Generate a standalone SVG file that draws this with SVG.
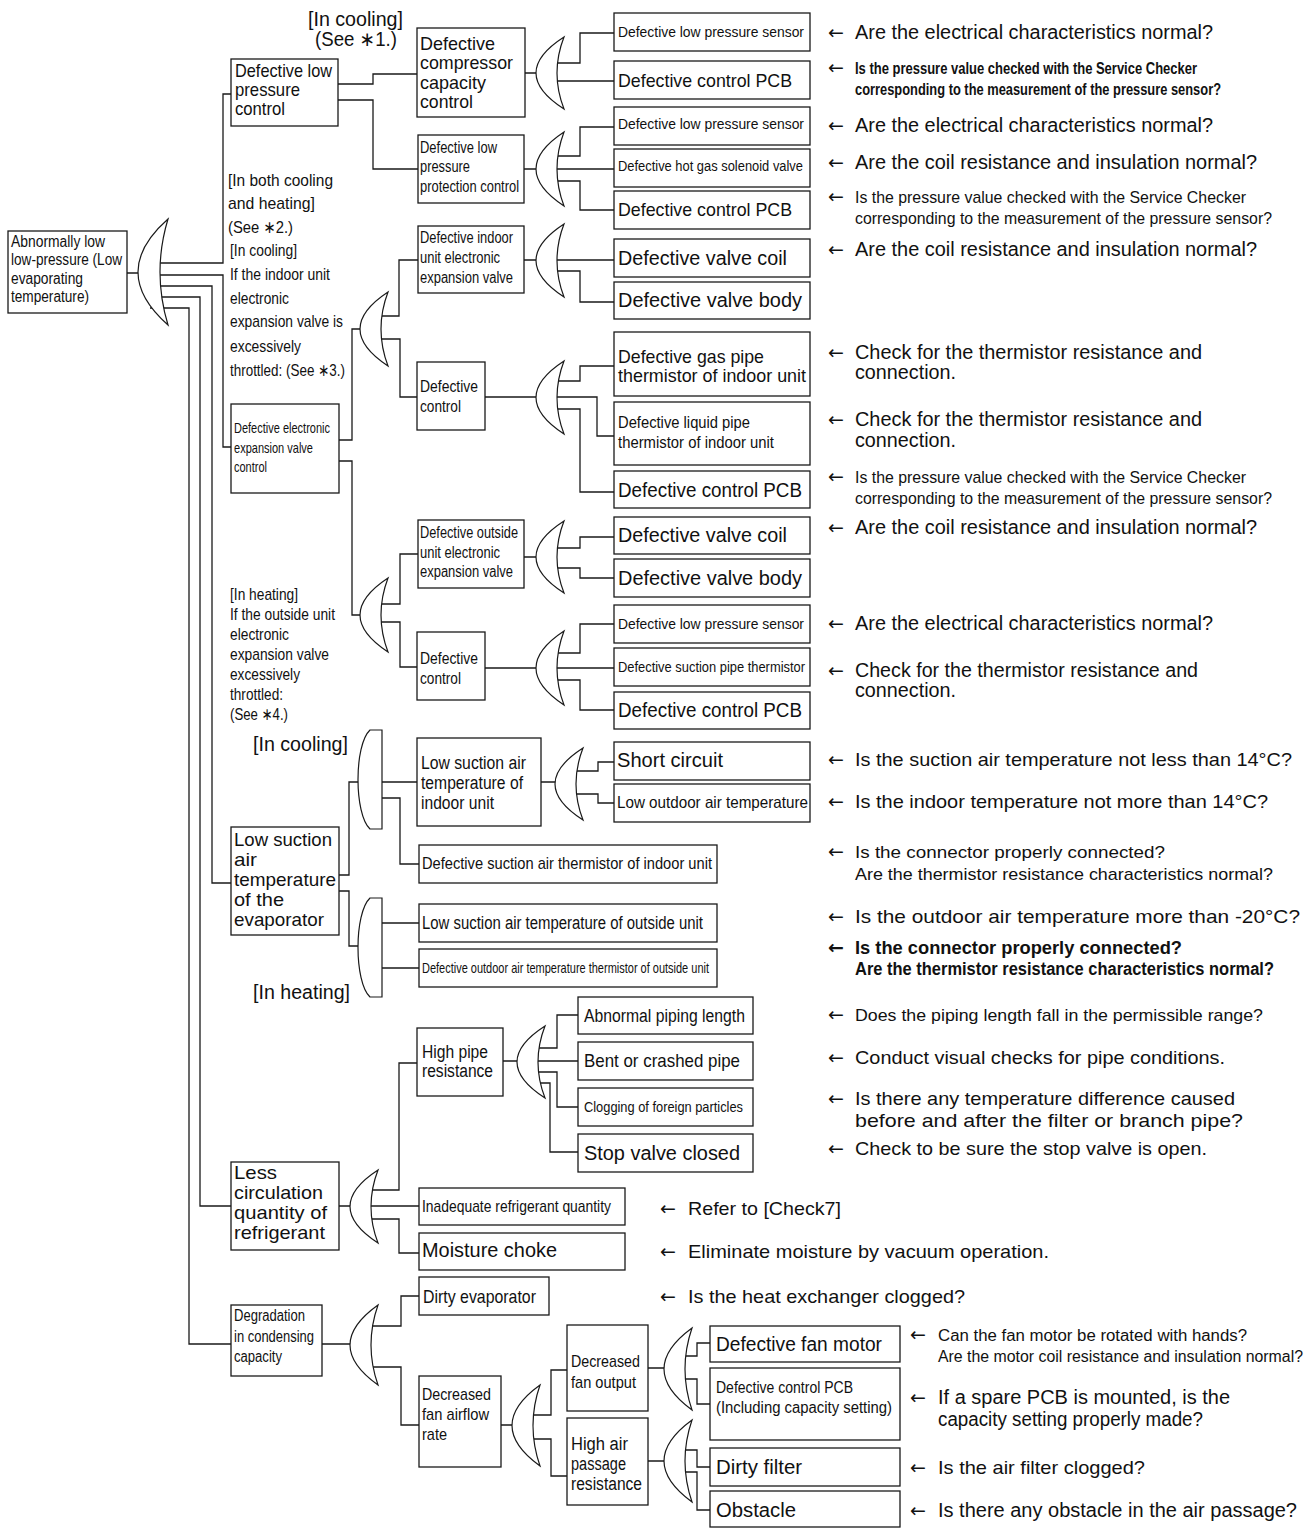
<svg xmlns="http://www.w3.org/2000/svg" width="1316" height="1528" viewBox="0 0 1316 1528">
<style>
.b{fill:#fff;stroke:#1a1a1a;stroke-width:1.3}
.c{fill:none;stroke:#1a1a1a;stroke-width:1.3}
.g{fill:#fff;stroke:#1a1a1a;stroke-width:1.2}
text{font-family:"Liberation Sans",Arial,"DejaVu Sans",sans-serif;fill:#111}
.ar{font-family:"DejaVu Sans",sans-serif;font-size:19px;font-weight:normal}
.s14{font-size:14px}.s15{font-size:15px}.s16{font-size:16px}.s17{font-size:17px}.s18{font-size:18px}.s19{font-size:19px}.s20{font-size:20px}
.bd{font-weight:bold}
</style>
<rect width="1316" height="1528" fill="#fff"/>
<g id="connectors">
<path class="c" d="M127,273 H145 M150,263 H223 V94 H231 M150,275 H223 V447 H231 M150,286 H212 V883 H231 M150,297 H200 V1206 H231 M150,308 H189 V1344 H231"/>
<path class="c" d="M338,84 H373 V74 H417 M338,100 H373 V169 H418"/>
<path class="c" d="M525,73 H545 M550,63 H580 V33 H614 M550,81 H614"/>
<path class="c" d="M524,169 H545 M550,156 H580 V127 H614 M550,169 H614 M550,181 H580 V210 H614"/>
<path class="c" d="M339,440 H352 V329 H368 M339,461 H352 V615 H368"/>
<path class="c" d="M378,316 H399 V260 H418 M378,339 H400 V397 H417 M378,604 H400 V554 H418 M378,622 H400 V667 H417"/>
<path class="c" d="M524,260 H545 M550,260 H614 M550,271 H580 V302 H614"/>
<path class="c" d="M485,397 H545 M550,381 H580 V366 H614 M550,397 H597 V436 H614 M550,409 H580 V492 H614"/>
<path class="c" d="M524,557 H545 M550,548 H580 V537 H614 M550,568 H580 V578 H614"/>
<path class="c" d="M485,668 H545 M550,653 H580 V624 H614 M550,668 H614 M550,680 H580 V710 H614"/>
<path class="c" d="M339,875 H349 V782 H362 M339,891 H349 V946 H362"/>
<path class="c" d="M382,782 H417 M382,798 H400 V864 H419 M382,923 H419 M382,968 H419"/>
<path class="c" d="M541,782 H565 M572,771 H598 V762 H614 M572,794 H598 V803 H614"/>
<path class="c" d="M339,1206 H358 M364,1190 H399 V1063 H417 M364,1206 H419 M364,1219 H399 V1253 H419"/>
<path class="c" d="M503,1061 H525 M531,1048 H557 V1015 H578 M531,1061 H578 M531,1072 H557 V1107 H578 M531,1083 H550 V1152 H578"/>
<path class="c" d="M322,1344 H358 M364,1326 H401 V1296 H419 M364,1367 H401 V1425 H419"/>
<path class="c" d="M501,1425 H520 M526,1415 H551 V1370 H567 M526,1439 H551 V1476 H567"/>
<path class="c" d="M648,1368 H672 M678,1356 H697 V1343 H710 M678,1379 H697 V1404 H710"/>
<path class="c" d="M648,1461 H672 M678,1450 H697 V1467 H710 M678,1472 H697 V1510 H710"/>
</g>
<g id="gates">
<path class="g" d="M168,219 Q108,272 168,325 Q152,272 168,219Z"/>
<path class="g" d="M564,37 Q508,73 564,109 Q550,73 564,37Z"/>
<path class="g" d="M564,132 Q508,169 564,206 Q550,169 564,132Z"/>
<path class="g" d="M388,292 Q332,329 388,366 Q374,329 388,292Z"/>
<path class="g" d="M388,578 Q332,615 388,652 Q374,615 388,578Z"/>
<path class="g" d="M564,224 Q508,260.5 564,297 Q550,260.5 564,224Z"/>
<path class="g" d="M564,361 Q508,397.5 564,434 Q550,397.5 564,361Z"/>
<path class="g" d="M564,521 Q508,557 564,593 Q550,557 564,521Z"/>
<path class="g" d="M564,631 Q508,668 564,705 Q550,668 564,631Z"/>
<path class="g" d="M583,748 Q527,784 583,820 Q569,784 583,748Z"/>
<path class="g" d="M378,1170 Q322,1206.5 378,1243 Q364,1206.5 378,1170Z"/>
<path class="g" d="M545,1026 Q489,1062 545,1098 Q531,1062 545,1026Z"/>
<path class="g" d="M378,1305 Q322,1345 378,1385 Q364,1345 378,1305Z"/>
<path class="g" d="M540,1385 Q484,1425.5 540,1466 Q526,1425.5 540,1385Z"/>
<path class="g" d="M692,1328 Q636,1369 692,1410 Q678,1369 692,1328Z"/>
<path class="g" d="M692,1420 Q636,1461 692,1502 Q678,1461 692,1420Z"/>
<path class="g" d="M382,730 H370 C354,745 354,814 370,829 H382 Z"/>
<path class="g" d="M382,898 H370 C354,913 354,982 370,997 H382 Z"/>
</g>
<g id="labels">
<text class="s20" x="308" y="26" textLength="95" lengthAdjust="spacingAndGlyphs">[In cooling]</text>
<text class="s20" x="315" y="46" textLength="82" lengthAdjust="spacingAndGlyphs">(See ∗1.)</text>
<text class="s17" x="228" y="186" textLength="105" lengthAdjust="spacingAndGlyphs">[In both cooling</text>
<text class="s17" x="228" y="209" textLength="87" lengthAdjust="spacingAndGlyphs">and heating]</text>
<text class="s17" x="228" y="233" textLength="65" lengthAdjust="spacingAndGlyphs">(See ∗2.)</text>
<text class="s17" x="230" y="256" textLength="67" lengthAdjust="spacingAndGlyphs">[In cooling]</text>
<text class="s17" x="230" y="280" textLength="100" lengthAdjust="spacingAndGlyphs">If the indoor unit</text>
<text class="s17" x="230" y="304" textLength="59" lengthAdjust="spacingAndGlyphs">electronic</text>
<text class="s17" x="230" y="327" textLength="113" lengthAdjust="spacingAndGlyphs">expansion valve is</text>
<text class="s17" x="230" y="352" textLength="71" lengthAdjust="spacingAndGlyphs">excessively</text>
<text class="s17" x="230" y="376" textLength="115" lengthAdjust="spacingAndGlyphs">throttled: (See ∗3.)</text>
<text class="s17" x="230" y="600" textLength="68" lengthAdjust="spacingAndGlyphs">[In heating]</text>
<text class="s17" x="230" y="620" textLength="105" lengthAdjust="spacingAndGlyphs">If the outside unit</text>
<text class="s17" x="230" y="640" textLength="59" lengthAdjust="spacingAndGlyphs">electronic</text>
<text class="s17" x="230" y="660" textLength="99" lengthAdjust="spacingAndGlyphs">expansion valve</text>
<text class="s17" x="230" y="680" textLength="70" lengthAdjust="spacingAndGlyphs">excessively</text>
<text class="s17" x="230" y="700" textLength="53" lengthAdjust="spacingAndGlyphs">throttled:</text>
<text class="s17" x="230" y="720" textLength="58" lengthAdjust="spacingAndGlyphs">(See ∗4.)</text>
<text class="s20" x="253" y="751" textLength="95" lengthAdjust="spacingAndGlyphs">[In cooling]</text>
<text class="s20" x="253" y="999" textLength="97" lengthAdjust="spacingAndGlyphs">[In heating]</text>
</g>
<g id="n-root"><rect class="b" x="8" y="231" width="119" height="82"/>
<text class="s16" x="11" y="247" textLength="94" lengthAdjust="spacingAndGlyphs">Abnormally low</text>
<text class="s16" x="11" y="265" textLength="111" lengthAdjust="spacingAndGlyphs">low-pressure (Low</text>
<text class="s16" x="11" y="284" textLength="72" lengthAdjust="spacingAndGlyphs">evaporating</text>
<text class="s16" x="11" y="302" textLength="78" lengthAdjust="spacingAndGlyphs">temperature)</text></g>
<g id="n-dlpc"><rect class="b" x="231" y="59" width="107" height="67"/>
<text class="s19" x="235" y="77" textLength="97" lengthAdjust="spacingAndGlyphs">Defective low</text>
<text class="s19" x="235" y="96" textLength="65" lengthAdjust="spacingAndGlyphs">pressure</text>
<text class="s19" x="235" y="115" textLength="50" lengthAdjust="spacingAndGlyphs">control</text></g>
<g id="n-dccc"><rect class="b" x="417" y="28" width="108" height="89"/>
<text class="s19" x="420" y="50" textLength="75" lengthAdjust="spacingAndGlyphs">Defective</text>
<text class="s19" x="420" y="69" textLength="93" lengthAdjust="spacingAndGlyphs">compressor</text>
<text class="s19" x="420" y="89" textLength="66" lengthAdjust="spacingAndGlyphs">capacity</text>
<text class="s19" x="420" y="108" textLength="53" lengthAdjust="spacingAndGlyphs">control</text></g>
<g id="n-dlppc"><rect class="b" x="418" y="135" width="106" height="68"/>
<text class="s16" x="420" y="153" textLength="77" lengthAdjust="spacingAndGlyphs">Defective low</text>
<text class="s16" x="420" y="172" textLength="50" lengthAdjust="spacingAndGlyphs">pressure</text>
<text class="s16" x="420" y="192" textLength="99" lengthAdjust="spacingAndGlyphs">protection control</text></g>
<g id="n-deevc"><rect class="b" x="231" y="404" width="108" height="89"/>
<text class="s15" x="234" y="433" textLength="96" lengthAdjust="spacingAndGlyphs">Defective electronic</text>
<text class="s15" x="234" y="453" textLength="79" lengthAdjust="spacingAndGlyphs">expansion valve</text>
<text class="s15" x="234" y="472" textLength="33" lengthAdjust="spacingAndGlyphs">control</text></g>
<g id="n-diueev"><rect class="b" x="418" y="226" width="106" height="67"/>
<text class="s16" x="420" y="243" textLength="93" lengthAdjust="spacingAndGlyphs">Defective indoor</text>
<text class="s16" x="420" y="263" textLength="80" lengthAdjust="spacingAndGlyphs">unit electronic</text>
<text class="s16" x="420" y="283" textLength="93" lengthAdjust="spacingAndGlyphs">expansion valve</text></g>
<g id="n-dcu"><rect class="b" x="417" y="362" width="68" height="68"/>
<text class="s17" x="420" y="392" textLength="58" lengthAdjust="spacingAndGlyphs">Defective</text>
<text class="s17" x="420" y="412" textLength="41" lengthAdjust="spacingAndGlyphs">control</text></g>
<g id="n-doueev"><rect class="b" x="418" y="520" width="106" height="68"/>
<text class="s16" x="420" y="538" textLength="98" lengthAdjust="spacingAndGlyphs">Defective outside</text>
<text class="s16" x="420" y="558" textLength="80" lengthAdjust="spacingAndGlyphs">unit electronic</text>
<text class="s16" x="420" y="577" textLength="93" lengthAdjust="spacingAndGlyphs">expansion valve</text></g>
<g id="n-dcl"><rect class="b" x="417" y="632" width="68" height="68"/>
<text class="s17" x="420" y="664" textLength="58" lengthAdjust="spacingAndGlyphs">Defective</text>
<text class="s17" x="420" y="684" textLength="41" lengthAdjust="spacingAndGlyphs">control</text></g>
<g id="n-lps1"><rect class="b" x="614" y="13" width="196" height="38"/><text class="s15" x="618" y="37" textLength="186" lengthAdjust="spacingAndGlyphs">Defective low pressure sensor</text></g>
<g id="n-pcb1"><rect class="b" x="614" y="61" width="196" height="38"/><text class="s19" x="618" y="87" textLength="174" lengthAdjust="spacingAndGlyphs">Defective control PCB</text></g>
<g id="n-lps2"><rect class="b" x="614" y="107" width="196" height="38"/><text class="s15" x="618" y="129" textLength="186" lengthAdjust="spacingAndGlyphs">Defective low pressure sensor</text></g>
<g id="n-hgsv"><rect class="b" x="614" y="149" width="196" height="38"/><text class="s14" x="618" y="171" textLength="185" lengthAdjust="spacingAndGlyphs">Defective hot gas solenoid valve</text></g>
<g id="n-pcb2"><rect class="b" x="614" y="191" width="196" height="38"/><text class="s19" x="618" y="216" textLength="174" lengthAdjust="spacingAndGlyphs">Defective control PCB</text></g>
<g id="n-vc1"><rect class="b" x="614" y="239" width="196" height="38"/><text class="s20" x="618" y="265" textLength="169" lengthAdjust="spacingAndGlyphs">Defective valve coil</text></g>
<g id="n-vb1"><rect class="b" x="614" y="282" width="196" height="37"/><text class="s20" x="618" y="307" textLength="184" lengthAdjust="spacingAndGlyphs">Defective valve body</text></g>
<g id="n-gpt"><rect class="b" x="614" y="332" width="196" height="64"/>
<text class="s19" x="618" y="363" textLength="146" lengthAdjust="spacingAndGlyphs">Defective gas pipe</text>
<text class="s19" x="618" y="382" textLength="188" lengthAdjust="spacingAndGlyphs">thermistor of indoor unit</text></g>
<g id="n-lpt"><rect class="b" x="614" y="402" width="196" height="63"/>
<text class="s17" x="618" y="428" textLength="132" lengthAdjust="spacingAndGlyphs">Defective liquid pipe</text>
<text class="s17" x="618" y="448" textLength="156" lengthAdjust="spacingAndGlyphs">thermistor of indoor unit</text></g>
<g id="n-pcb3"><rect class="b" x="614" y="471" width="196" height="37"/><text class="s20" x="618" y="497" textLength="184" lengthAdjust="spacingAndGlyphs">Defective control PCB</text></g>
<g id="n-vc2"><rect class="b" x="614" y="517" width="196" height="37"/><text class="s20" x="618" y="542" textLength="169" lengthAdjust="spacingAndGlyphs">Defective valve coil</text></g>
<g id="n-vb2"><rect class="b" x="614" y="559" width="196" height="38"/><text class="s20" x="618" y="585" textLength="184" lengthAdjust="spacingAndGlyphs">Defective valve body</text></g>
<g id="n-lps3"><rect class="b" x="614" y="605" width="196" height="38"/><text class="s15" x="618" y="629" textLength="186" lengthAdjust="spacingAndGlyphs">Defective low pressure sensor</text></g>
<g id="n-spt"><rect class="b" x="614" y="648" width="196" height="38"/><text class="s14" x="618" y="672" textLength="187" lengthAdjust="spacingAndGlyphs">Defective suction pipe thermistor</text></g>
<g id="n-pcb4"><rect class="b" x="614" y="692" width="196" height="37"/><text class="s20" x="618" y="717" textLength="184" lengthAdjust="spacingAndGlyphs">Defective control PCB</text></g>
<g id="n-lsae"><rect class="b" x="231" y="827" width="108" height="108"/>
<text class="s19" x="234" y="846" textLength="98" lengthAdjust="spacingAndGlyphs">Low suction</text>
<text class="s19" x="234" y="866" textLength="23" lengthAdjust="spacingAndGlyphs">air</text>
<text class="s19" x="234" y="886" textLength="102" lengthAdjust="spacingAndGlyphs">temperature</text>
<text class="s19" x="234" y="906" textLength="50" lengthAdjust="spacingAndGlyphs">of the</text>
<text class="s19" x="234" y="926" textLength="90" lengthAdjust="spacingAndGlyphs">evaporator</text></g>
<g id="n-lsati"><rect class="b" x="417" y="738" width="124" height="88"/>
<text class="s18" x="421" y="769" textLength="105" lengthAdjust="spacingAndGlyphs">Low suction air</text>
<text class="s18" x="421" y="789" textLength="102" lengthAdjust="spacingAndGlyphs">temperature of</text>
<text class="s18" x="421" y="809" textLength="73" lengthAdjust="spacingAndGlyphs">indoor unit</text></g>
<g id="n-sc"><rect class="b" x="614" y="742" width="196" height="38"/><text class="s20" x="617" y="767" textLength="106" lengthAdjust="spacingAndGlyphs">Short circuit</text></g>
<g id="n-loat"><rect class="b" x="614" y="784" width="196" height="38"/><text x="617" y="808" style="font-size:16.5px" textLength="191" lengthAdjust="spacingAndGlyphs">Low outdoor air temperature</text></g>
<g id="n-dsati"><rect class="b" x="419" y="845" width="298" height="38"/><text class="s17" x="422" y="869" textLength="290" lengthAdjust="spacingAndGlyphs">Defective suction air thermistor of indoor unit</text></g>
<g id="n-lsato"><rect class="b" x="419" y="904" width="298" height="38"/><text class="s18" x="422" y="929" textLength="281" lengthAdjust="spacingAndGlyphs">Low suction air temperature of outside unit</text></g>
<g id="n-doat"><rect class="b" x="419" y="949" width="298" height="38"/><text class="s15" x="422" y="973" textLength="287" lengthAdjust="spacingAndGlyphs">Defective outdoor air temperature thermistor of outside unit</text></g>
<g id="n-hpr"><rect class="b" x="417" y="1028" width="86" height="68"/>
<text class="s18" x="422" y="1058" textLength="66" lengthAdjust="spacingAndGlyphs">High pipe</text>
<text class="s18" x="422" y="1077" textLength="71" lengthAdjust="spacingAndGlyphs">resistance</text></g>
<g id="n-apl"><rect class="b" x="578" y="997" width="175" height="37"/><text class="s18" x="584" y="1022" textLength="161" lengthAdjust="spacingAndGlyphs">Abnormal piping length</text></g>
<g id="n-bcp"><rect class="b" x="578" y="1042" width="175" height="38"/><text class="s19" x="584" y="1067" textLength="156" lengthAdjust="spacingAndGlyphs">Bent or crashed pipe</text></g>
<g id="n-cfp"><rect class="b" x="578" y="1088" width="175" height="38"/><text class="s15" x="584" y="1112" textLength="159" lengthAdjust="spacingAndGlyphs">Clogging of foreign particles</text></g>
<g id="n-svc"><rect class="b" x="578" y="1134" width="175" height="38"/><text class="s20" x="584" y="1160" textLength="156" lengthAdjust="spacingAndGlyphs">Stop valve closed</text></g>
<g id="n-lcq"><rect class="b" x="231" y="1162" width="108" height="88"/>
<text class="s19" x="234" y="1179" textLength="43" lengthAdjust="spacingAndGlyphs">Less</text>
<text class="s19" x="234" y="1199" textLength="89" lengthAdjust="spacingAndGlyphs">circulation</text>
<text class="s19" x="234" y="1219" textLength="93" lengthAdjust="spacingAndGlyphs">quantity of</text>
<text class="s19" x="234" y="1239" textLength="91" lengthAdjust="spacingAndGlyphs">refrigerant</text></g>
<g id="n-irq"><rect class="b" x="419" y="1188" width="206" height="37"/><text class="s17" x="422" y="1212" textLength="189" lengthAdjust="spacingAndGlyphs">Inadequate refrigerant quantity</text></g>
<g id="n-mc"><rect class="b" x="419" y="1233" width="206" height="37"/><text class="s20" x="422" y="1257" textLength="135" lengthAdjust="spacingAndGlyphs">Moisture choke</text></g>
<g id="n-deg"><rect class="b" x="231" y="1305" width="91" height="71"/>
<text class="s16" x="234" y="1321" textLength="71" lengthAdjust="spacingAndGlyphs">Degradation</text>
<text class="s16" x="234" y="1342" textLength="80" lengthAdjust="spacingAndGlyphs">in condensing</text>
<text class="s16" x="234" y="1362" textLength="48" lengthAdjust="spacingAndGlyphs">capacity</text></g>
<g id="n-de"><rect class="b" x="419" y="1277" width="130" height="38"/><text class="s19" x="423" y="1303" textLength="113" lengthAdjust="spacingAndGlyphs">Dirty evaporator</text></g>
<g id="n-dfar"><rect class="b" x="419" y="1376" width="82" height="91"/>
<text class="s17" x="422" y="1400" textLength="69" lengthAdjust="spacingAndGlyphs">Decreased</text>
<text class="s17" x="422" y="1420" textLength="67" lengthAdjust="spacingAndGlyphs">fan airflow</text>
<text class="s17" x="422" y="1440" textLength="25" lengthAdjust="spacingAndGlyphs">rate</text></g>
<g id="n-dfo"><rect class="b" x="567" y="1325" width="81" height="86"/>
<text class="s17" x="571" y="1367" textLength="69" lengthAdjust="spacingAndGlyphs">Decreased</text>
<text class="s17" x="571" y="1388" textLength="65" lengthAdjust="spacingAndGlyphs">fan output</text></g>
<g id="n-hapr"><rect class="b" x="567" y="1418" width="81" height="87"/>
<text class="s18" x="571" y="1450" textLength="57" lengthAdjust="spacingAndGlyphs">High air</text>
<text class="s18" x="571" y="1470" textLength="55" lengthAdjust="spacingAndGlyphs">passage</text>
<text class="s18" x="571" y="1490" textLength="71" lengthAdjust="spacingAndGlyphs">resistance</text></g>
<g id="n-dfm"><rect class="b" x="710" y="1326" width="190" height="36"/><text class="s20" x="716" y="1351" textLength="166" lengthAdjust="spacingAndGlyphs">Defective fan motor</text></g>
<g id="n-dcpcb"><rect class="b" x="710" y="1368" width="190" height="72"/>
<text class="s16" x="716" y="1393" textLength="137" lengthAdjust="spacingAndGlyphs">Defective control PCB</text>
<text class="s16" x="716" y="1413" textLength="176" lengthAdjust="spacingAndGlyphs">(Including capacity setting)</text></g>
<g id="n-df"><rect class="b" x="710" y="1448" width="190" height="38"/><text class="s20" x="716" y="1474" textLength="86" lengthAdjust="spacingAndGlyphs">Dirty filter</text></g>
<g id="n-ob"><rect class="b" x="710" y="1491" width="190" height="36"/><text class="s20" x="716" y="1517" textLength="80" lengthAdjust="spacingAndGlyphs">Obstacle</text></g>
<g id="comments">
<text class="s20" y="39"><tspan class="ar" x="828">←</tspan><tspan x="855" textLength="358" lengthAdjust="spacingAndGlyphs">Are the electrical characteristics normal?</tspan></text>
<text class="s16 bd" y="74"><tspan class="ar" x="828">←</tspan><tspan x="855" textLength="342" lengthAdjust="spacingAndGlyphs">Is the pressure value checked with the Service Checker</tspan></text>
<text class="s16 bd" x="855" y="95" textLength="366" lengthAdjust="spacingAndGlyphs">corresponding to the measurement of the pressure sensor?</text>
<text class="s20" y="132"><tspan class="ar" x="828">←</tspan><tspan x="855" textLength="358" lengthAdjust="spacingAndGlyphs">Are the electrical characteristics normal?</tspan></text>
<text class="s20" y="169"><tspan class="ar" x="828">←</tspan><tspan x="855" textLength="402" lengthAdjust="spacingAndGlyphs">Are the coil resistance and insulation normal?</tspan></text>
<text class="s17" y="203"><tspan class="ar" x="828">←</tspan><tspan x="855" textLength="391" lengthAdjust="spacingAndGlyphs">Is the pressure value checked with the Service Checker</tspan></text>
<text class="s17" x="855" y="224" textLength="417" lengthAdjust="spacingAndGlyphs">corresponding to the measurement of the pressure sensor?</text>
<text class="s20" y="256"><tspan class="ar" x="828">←</tspan><tspan x="855" textLength="402" lengthAdjust="spacingAndGlyphs">Are the coil resistance and insulation normal?</tspan></text>
<text class="s20" y="359"><tspan class="ar" x="828">←</tspan><tspan x="855" textLength="347" lengthAdjust="spacingAndGlyphs">Check for the thermistor resistance and</tspan></text>
<text class="s20" x="855" y="379" textLength="101" lengthAdjust="spacingAndGlyphs">connection.</text>
<text class="s20" y="426"><tspan class="ar" x="828">←</tspan><tspan x="855" textLength="347" lengthAdjust="spacingAndGlyphs">Check for the thermistor resistance and</tspan></text>
<text class="s20" x="855" y="447" textLength="101" lengthAdjust="spacingAndGlyphs">connection.</text>
<text class="s17" y="483"><tspan class="ar" x="828">←</tspan><tspan x="855" textLength="391" lengthAdjust="spacingAndGlyphs">Is the pressure value checked with the Service Checker</tspan></text>
<text class="s17" x="855" y="504" textLength="417" lengthAdjust="spacingAndGlyphs">corresponding to the measurement of the pressure sensor?</text>
<text class="s20" y="534"><tspan class="ar" x="828">←</tspan><tspan x="855" textLength="402" lengthAdjust="spacingAndGlyphs">Are the coil resistance and insulation normal?</tspan></text>
<text class="s20" y="630"><tspan class="ar" x="828">←</tspan><tspan x="855" textLength="358" lengthAdjust="spacingAndGlyphs">Are the electrical characteristics normal?</tspan></text>
<text class="s20" y="677"><tspan class="ar" x="828">←</tspan><tspan x="855" textLength="343" lengthAdjust="spacingAndGlyphs">Check for the thermistor resistance and</tspan></text>
<text class="s20" x="855" y="697" textLength="101" lengthAdjust="spacingAndGlyphs">connection.</text>
<text class="s19" y="766"><tspan class="ar" x="828">←</tspan><tspan x="855" textLength="437" lengthAdjust="spacingAndGlyphs">Is the suction air temperature not less than 14°C?</tspan></text>
<text class="s19" y="808"><tspan class="ar" x="828">←</tspan><tspan x="855" textLength="413" lengthAdjust="spacingAndGlyphs">Is the indoor temperature not more than 14°C?</tspan></text>
<text class="s17" y="858"><tspan class="ar" x="828">←</tspan><tspan x="855" textLength="310" lengthAdjust="spacingAndGlyphs">Is the connector properly connected?</tspan></text>
<text class="s17" x="855" y="880" textLength="418" lengthAdjust="spacingAndGlyphs">Are the thermistor resistance characteristics normal?</text>
<text class="s19" y="923"><tspan class="ar" x="828">←</tspan><tspan x="855" textLength="445" lengthAdjust="spacingAndGlyphs">Is the outdoor air temperature more than -20°C?</tspan></text>
<text class="s18 bd" y="954"><tspan class="ar" x="828" style="font-weight:bold">←</tspan><tspan x="855" textLength="327" lengthAdjust="spacingAndGlyphs">Is the connector properly connected?</tspan></text>
<text class="s18 bd" x="855" y="975" textLength="419" lengthAdjust="spacingAndGlyphs">Are the thermistor resistance characteristics normal?</text>
<text class="s17" y="1021"><tspan class="ar" x="828">←</tspan><tspan x="855" textLength="408" lengthAdjust="spacingAndGlyphs">Does the piping length fall in the permissible range?</tspan></text>
<text class="s19" y="1064"><tspan class="ar" x="828">←</tspan><tspan x="855" textLength="370" lengthAdjust="spacingAndGlyphs">Conduct visual checks for pipe conditions.</tspan></text>
<text class="s19" y="1105"><tspan class="ar" x="828">←</tspan><tspan x="855" textLength="380" lengthAdjust="spacingAndGlyphs">Is there any temperature difference caused</tspan></text>
<text class="s19" x="855" y="1127" textLength="388" lengthAdjust="spacingAndGlyphs">before and after the filter or branch pipe?</text>
<text class="s19" y="1155"><tspan class="ar" x="828">←</tspan><tspan x="855" textLength="352" lengthAdjust="spacingAndGlyphs">Check to be sure the stop valve is open.</tspan></text>
<text class="s19" y="1215"><tspan class="ar" x="660">←</tspan><tspan x="688" textLength="153" lengthAdjust="spacingAndGlyphs">Refer to [Check7]</tspan></text>
<text class="s19" y="1258"><tspan class="ar" x="660">←</tspan><tspan x="688" textLength="361" lengthAdjust="spacingAndGlyphs">Eliminate moisture by vacuum operation.</tspan></text>
<text class="s19" y="1303"><tspan class="ar" x="660">←</tspan><tspan x="688" textLength="277" lengthAdjust="spacingAndGlyphs">Is the heat exchanger clogged?</tspan></text>
<text class="s16" y="1341"><tspan class="ar" x="910">←</tspan><tspan x="938" textLength="309" lengthAdjust="spacingAndGlyphs">Can the fan motor be rotated with hands?</tspan></text>
<text class="s16" x="938" y="1362" textLength="365" lengthAdjust="spacingAndGlyphs">Are the motor coil resistance and insulation normal?</text>
<text class="s20" y="1404"><tspan class="ar" x="910">←</tspan><tspan x="938" textLength="292" lengthAdjust="spacingAndGlyphs">If a spare PCB is mounted, is the</tspan></text>
<text class="s20" x="938" y="1426" textLength="265" lengthAdjust="spacingAndGlyphs">capacity setting properly made?</text>
<text class="s19" y="1474"><tspan class="ar" x="910">←</tspan><tspan x="938" textLength="207" lengthAdjust="spacingAndGlyphs">Is the air filter clogged?</tspan></text>
<text class="s20" y="1517"><tspan class="ar" x="910">←</tspan><tspan x="938" textLength="359" lengthAdjust="spacingAndGlyphs">Is there any obstacle in the air passage?</tspan></text>
</g>
</svg>
